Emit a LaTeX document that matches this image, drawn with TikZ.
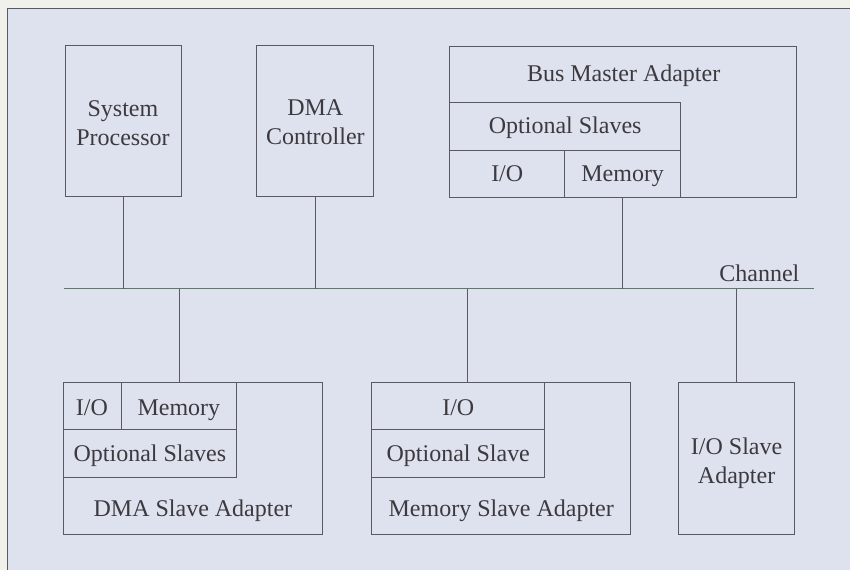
\documentclass[tikz,border=0pt]{standalone}
\usepackage{fontspec}
\setmainfont{Liberation Serif}
\usetikzlibrary{fit}
\definecolor{paper}{HTML}{F1F1EC}
\definecolor{panel}{HTML}{DEE1EE}
\definecolor{ink}{HTML}{3C3A3E}
\definecolor{rule}{HTML}{5C5862}
\definecolor{busline}{HTML}{5F7868}
\begin{document}
\begin{tikzpicture}[x=1pt,y=-1pt,
  font=\fontsize{24}{29}\selectfont, text=ink,
  cell/.style={draw=rule, line width=0.8pt, inner sep=0pt},
  title/.style={inner sep=0pt, anchor=base},
  stack/.style={inner sep=0pt, anchor=north, align=center},
  wire/.style={draw=rule, line width=0.8pt},
  bus/.style={draw=busline, line width=0.8pt}]
% page and panel
\fill[paper] (0,0) rectangle (850,570);
\fill[panel] (7,8) rectangle (850,570);
\draw[rule, line width=0.9pt] (7,570) -- (7,8) -- (850,8);

% upper row
\node[cell, fit={(65,45) (181,196)}] (sp) {};
\node[stack] (spt) at (123,100) {System\\Processor};
\node[cell, fit={(257,45) (374,196)}] (dmac) {};
\node[stack] (dmact) at (315.5,100) {DMA\\Controller};

\node[cell, fit={(450,46) (797,197)}] (bma) {};
\node[title] (bmat) at (624,81.5) {Bus Master Adapter};
\node[cell, fit={(450,102) (681,150)}] (bmopt) {};
\node[title] (bmoptt) at ([yshift=-8pt]bmopt.center) {Optional Slaves};
\node[cell, fit={(450,150) (565,197)}] (bmio) {};
\node[title] (bmiot) at ([yshift=-8pt]bmio.center) {I/O};
\node[cell, fit={(565,150) (681,197)}] (bmmem) {};
\node[title] (bmmemt) at ([yshift=-8pt]bmmem.center) {Memory};

% channel
\coordinate (chL) at (64,289);
\coordinate (chR) at (814,289);
\draw[bus] (chL) -- (chR);
\node[inner sep=0pt, anchor=base east] (chlbl) at (800,282) {Channel};

% lower row
\node[cell, fit={(63,383) (323,535)}] (dsa) {};
\node[cell, fit={(63,383) (121,430)}] (dsio) {};
\node[title] (dsiot) at ([yshift=-9pt]dsio.center) {I/O};
\node[cell, fit={(121,383) (237,430)}] (dsmem) {};
\node[title] (dsmemt) at ([yshift=-9pt]dsmem.center) {Memory};
\node[cell, fit={(63,430) (237,478)}] (dsopt) {};
\node[title] (dsoptt) at ([yshift=-8pt]dsopt.center) {Optional Slaves};
\node[title] (dsat) at (193,517) {DMA Slave Adapter};

\node[cell, fit={(372,383) (631,535)}] (msa) {};
\node[cell, fit={(372,383) (545,430)}] (msio) {};
\node[title] (msiot) at ([yshift=-9pt]msio.center) {I/O};
\node[cell, fit={(372,430) (545,478)}] (msopt) {};
\node[title] (msoptt) at ([yshift=-8pt]msopt.center) {Optional Slave};
\node[title] (msat) at (501.5,517) {Memory Slave Adapter};

\node[cell, fit={(679,383) (795,535)}] (iosa) {};
\node[stack] (iosat) at (737,438) {I/O Slave\\Adapter};

% taps onto the channel
\draw[wire] (sp.south) -- (sp.south |- chL);
\draw[wire] (dmac.south) -- (dmac.south |- chL);
\draw[wire] (bmmem.south) -- (bmmem.south |- chL);
\draw[wire] (dsmem.north) -- (dsmem.north |- chL);
\draw[wire] ([xshift=96pt]msa.north west) coordinate (mstap) -- (mstap |- chL);
\draw[wire] (iosa.north) -- (iosa.north |- chL);
\end{tikzpicture}
\end{document}
